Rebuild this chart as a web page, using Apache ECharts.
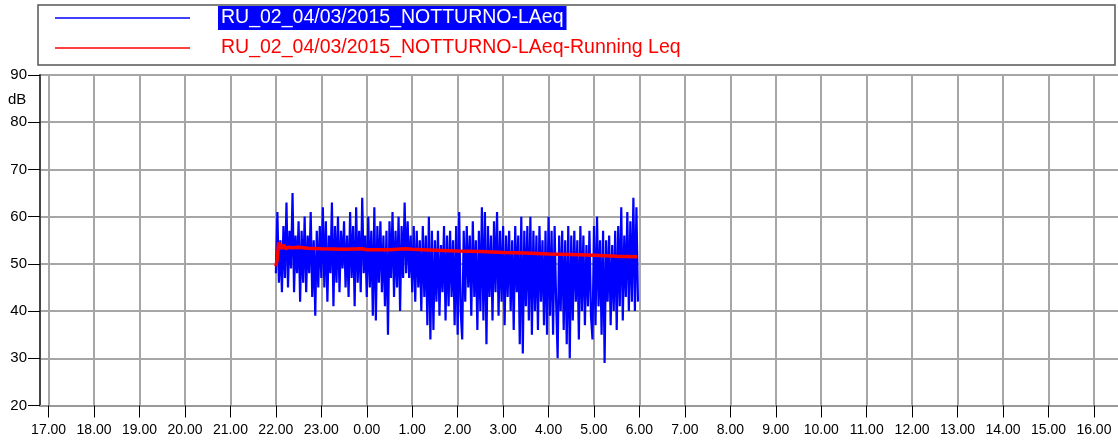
<!DOCTYPE html>
<html>
<head>
<meta charset="utf-8">
<script src="https://cdn.jsdelivr.net/npm/echarts@6/dist/echarts.min.js"></script>
<style>
  html, body { margin: 0; padding: 0; background: #fff; }
  #chart { width: 1118px; height: 443px; }
</style>
</head>
<body>
<div id="chart"></div>
<script>
// x values are hours counted from 17.00
const TICK_HOURS = [0, 1, 2, 3, 4, 5, 6, 7, 8, 9, 10, 11, 12, 13, 14, 15, 16, 17, 18, 19, 20, 21, 22, 23];
const TICK_LABELS = ["17.00", "18.00", "19.00", "20.00", "21.00", "22.00", "23.00", "0.00",
  "1.00", "2.00", "3.00", "4.00", "5.00", "6.00", "7.00", "8.00", "9.00", "10.00",
  "11.00", "12.00", "13.00", "14.00", "15.00", "16.00"];

const LAEQ_NAME = "RU_02_04/03/2015_NOTTURNO-LAeq";
const RUNNING_NAME = "RU_02_04/03/2015_NOTTURNO-LAeq-Running Leq";

// LAeq samples, one every 2 minutes from 22.00 (hour 5)
const LAEQ_START = 5;
const LAEQ_STEP = 2 / 60;
const laeqValues = [
  48, 61, 46, 55, 44, 58, 47, 63, 45, 57, 49, 65, 44, 56, 48,
  59, 42, 57, 46, 60, 44, 56, 48, 61, 43, 55, 39, 57, 45, 58,
  47, 62, 45, 59, 42, 56, 48, 63, 41, 58, 46, 60, 44, 57, 49,
  59, 45, 56, 43, 61, 47, 58, 41, 62, 46, 57, 44, 64, 48, 56,
  43, 60, 45, 57, 39, 62, 38, 58, 46, 59, 44, 56, 41, 57, 35,
  59, 47, 61, 43, 57, 45, 60, 40, 58, 47, 63, 48, 59, 47, 56,
  44, 58, 42, 57, 45, 55, 40, 58, 43, 56, 37, 60, 34, 57, 36,
  55, 42, 57, 39, 54, 44, 58, 38, 56, 41, 57, 43, 55, 37, 58,
  35, 61, 40, 34, 57, 42, 58, 45, 56, 39, 59, 43, 55, 36, 57,
  40, 62, 38, 61, 33, 58, 43, 56, 38, 59, 44, 61, 39, 57, 42,
  58, 37, 56, 43, 57, 40, 55, 36, 58, 44, 56, 33, 60, 31, 57,
  41, 58, 38, 60, 35, 57, 40, 56, 36, 58, 42, 55, 37, 57, 35,
  60, 39, 57, 35, 58, 42, 30, 56, 40, 57, 36, 55, 33, 58, 30,
  56, 38, 57, 42, 55, 34, 58, 40, 56, 37, 54, 41, 57, 39, 34,
  58, 37, 60, 41, 55, 35, 57, 29, 55, 42, 56, 37, 54, 40, 57,
  36, 58, 41, 62, 38, 56, 43, 61, 40, 59, 42, 64, 40, 62, 42
];

// running Leq, read at a few points
const runningHours = [5.0, 5.03, 5.06, 5.1, 5.13, 5.17, 5.22, 5.27, 5.35, 5.5, 5.7, 6.0, 6.5,
  6.9, 7.0, 7.5, 7.85, 8.0, 8.5, 9.0, 9.5, 10.0, 10.5, 11.0, 11.5, 12.0, 12.5, 12.95];
const runningValues = [49.5, 51, 54.5, 53.8, 53.2, 54.0, 53.2, 53.5, 53.4, 53.5, 53.3, 53.2, 53.1,
  53.2, 53.0, 53.0, 53.2, 53.1, 52.9, 52.7, 52.6, 52.4, 52.3, 52.1, 52.0, 51.8, 51.6, 51.5];

const laeqData = laeqValues.map((v, i) => [LAEQ_START + i * LAEQ_STEP, v]);
const runningData = runningHours.map((h, i) => [h, runningValues[i]]);

const chart = echarts.init(document.getElementById("chart"));

const option = {
  animation: false,
  grid: { left: 40, right: 0, top: 75, bottom: 37.5 },
  xAxis: {
    type: "value",
    min: -0.19,
    max: 23.53,
    axisLine: { show: true, onZero: false, lineStyle: { color: "#999", width: 2 } },
    axisTick: {
      show: true,
      customValues: TICK_HOURS,
      length: 12,
      lineStyle: { color: "#000", width: 1 }
    },
    axisLabel: {
      customValues: TICK_HOURS,
      formatter: (v) => TICK_LABELS[Math.round(v)],
      color: "#000",
      fontFamily: "Liberation Sans",
      fontSize: 14,
      margin: 18
    },
    splitLine: { show: true, lineStyle: { color: "#a6a6a6", width: 2 } }
  },
  yAxis: {
    type: "value",
    min: 20,
    max: 90,
    interval: 10,
    axisLine: { show: true, onZero: false, lineStyle: { color: "#444", width: 2 } },
    axisTick: { show: true, length: 12, lineStyle: { color: "#000", width: 1 } },
    axisLabel: {
      color: "#000",
      fontFamily: "Liberation Sans",
      fontSize: 15,
      margin: 13
    },
    splitLine: { show: true, lineStyle: { color: "#a6a6a6", width: 2 } }
  },
  graphic: [
    // legend box
    {
      type: "rect",
      shape: { x: 38, y: 5, width: 1077, height: 60 },
      style: { fill: "#fff", stroke: "#555", lineWidth: 1.5 }
    },
    {
      type: "line",
      shape: { x1: 55, y1: 18, x2: 190, y2: 18 },
      style: { stroke: "#0000ff", lineWidth: 1.5 }
    },
    {
      type: "text",
      x: 218,
      y: 18,
      style: {
        text: LAEQ_NAME,
        fill: "#fff",
        backgroundColor: "#0000ff",
        padding: [2, 3, 2, 3],
        font: "19.5px 'Liberation Sans'",
        verticalAlign: "middle"
      }
    },
    {
      type: "line",
      shape: { x1: 55, y1: 48, x2: 190, y2: 48 },
      style: { stroke: "#ff0000", lineWidth: 1.5 }
    },
    {
      type: "text",
      x: 221,
      y: 48,
      style: {
        text: RUNNING_NAME,
        fill: "#ff0000",
        font: "19.5px 'Liberation Sans'",
        verticalAlign: "middle"
      }
    },
    {
      type: "text",
      x: 8,
      y: 100,
      style: {
        text: "dB",
        fill: "#000",
        font: "15px 'Liberation Sans'",
        verticalAlign: "middle"
      }
    }
  ],
  series: [
    {
      name: LAEQ_NAME,
      type: "line",
      data: laeqData,
      showSymbol: false,
      lineStyle: { color: "#0000ff", width: 2.2 },
      itemStyle: { color: "#0000ff" },
      z: 3
    },
    {
      name: RUNNING_NAME,
      type: "line",
      data: runningData,
      showSymbol: false,
      lineStyle: { color: "#ff0000", width: 3.5 },
      itemStyle: { color: "#ff0000" },
      z: 4
    }
  ]
};

chart.setOption(option);
</script>
</body>
</html>
